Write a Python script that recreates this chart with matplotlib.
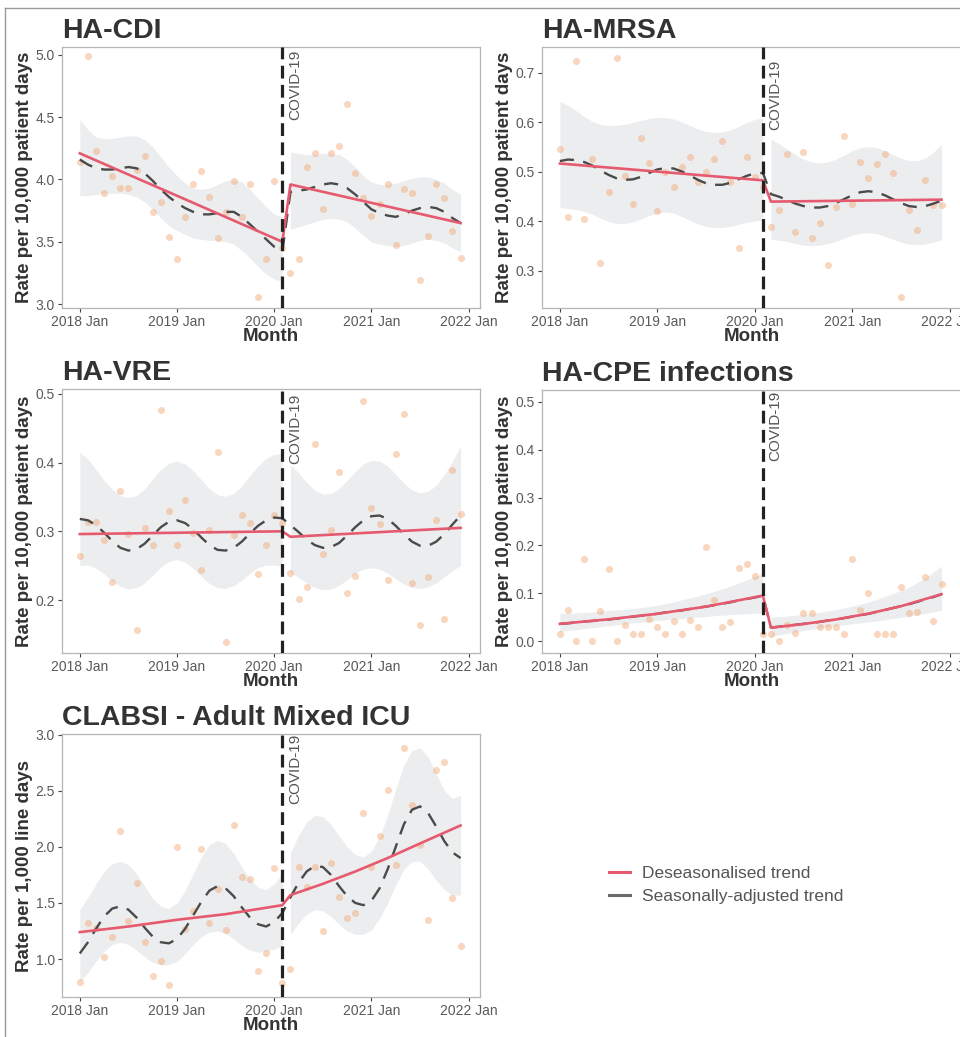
import matplotlib
matplotlib.use("Agg")
import matplotlib.pyplot as plt
from matplotlib.lines import Line2D

plt.rcParams['font.family'] = ['Liberation Sans', 'DejaVu Sans']

# monthly index, 0 = 2018 Jan ... 47 = 2021 Dec
months = list(range(48))
tick_pos = [0, 12, 24, 36, 48]
tick_labels = ["2018 Jan", "2019 Jan", "2020 Jan", "2021 Jan", "2022 Jan"]
covid_month = 25  # 2020 Feb

# ---------------- HA-CDI ----------------
cdi_rate = [4.14, 4.99, 4.23, 3.89, 4.03, 3.93, 3.93, 4.08, 4.19, 3.74, 3.82, 3.54,
            3.36, 3.70, 3.96, 4.07, 3.86, 3.53, 3.74, 3.99, 3.70, 3.96, 3.06, 3.36,
            3.99, 3.45, 3.25, 3.36, 4.10, 4.21, 3.76, 4.21, 4.27, 4.61, 4.05, 3.85,
            3.71, 3.80, 3.96, 3.47, 3.92, 3.89, 3.19, 3.55, 3.96, 3.85, 3.59, 3.37]
cdi_seas = [4.16, 4.12, 4.09, 4.08, 4.08, 4.09, 4.10, 4.09, 4.05, 3.99, 3.92, 3.86,
            3.81, 3.77, 3.74, 3.72, 3.72, 3.73, 3.74, 3.74, 3.70, 3.64, 3.58, 3.52,
            3.46, 3.42, 3.90, 3.91, 3.92, 3.94, 3.96, 3.97, 3.96, 3.93, 3.88, 3.82,
            3.76, 3.73, 3.71, 3.70, 3.72, 3.75, 3.77, 3.78, 3.77, 3.74, 3.69, 3.65]
cdi_hi = [4.48, 4.40, 4.34, 4.33, 4.33, 4.34, 4.35, 4.35, 4.32, 4.26, 4.18, 4.10,
          4.03, 3.97, 3.93, 3.92, 3.93, 3.96, 3.99, 4.00, 3.98, 3.92, 3.85, 3.78,
          3.72, 3.70, 4.22, 4.21, 4.20, 4.20, 4.21, 4.21, 4.20, 4.16, 4.10, 4.03,
          3.98, 3.96, 3.96, 3.97, 3.99, 4.01, 4.02, 4.02, 4.00, 3.97, 3.92, 3.88]
cdi_lo = [3.87, 3.87, 3.88, 3.89, 3.89, 3.89, 3.88, 3.86, 3.82, 3.76, 3.69, 3.63,
          3.59, 3.56, 3.53, 3.52, 3.51, 3.51, 3.50, 3.48, 3.43, 3.37, 3.30, 3.24,
          3.20, 3.18, 3.60, 3.62, 3.64, 3.66, 3.68, 3.69, 3.68, 3.66, 3.61, 3.55,
          3.50, 3.48, 3.47, 3.46, 3.47, 3.49, 3.51, 3.52, 3.51, 3.49, 3.45, 3.42]
cdi_trend_x = [0, 25, 26, 47]
cdi_trend_y = [4.21, 3.50, 3.96, 3.65]

# ---------------- HA-MRSA ----------------
mrsa_rate = [0.547, 0.409, 0.724, 0.404, 0.527, 0.316, 0.460, 0.731, 0.492, 0.436, 0.569, 0.518,
             0.421, 0.500, 0.470, 0.510, 0.530, 0.479, 0.500, 0.527, 0.562, 0.480, 0.347, 0.530,
             0.490, 0.470, 0.388, 0.424, 0.537, 0.379, 0.540, 0.367, 0.397, 0.311, 0.429, 0.572,
             0.436, 0.520, 0.488, 0.517, 0.536, 0.498, 0.247, 0.424, 0.382, 0.483, 0.433, 0.434]
mrsa_seas = [0.522, 0.525, 0.524, 0.520, 0.513, 0.503, 0.494, 0.487, 0.484, 0.485, 0.490, 0.498,
             0.505, 0.508, 0.507, 0.501, 0.493, 0.484, 0.477, 0.474, 0.474, 0.478, 0.485, 0.492,
             0.497, 0.498, 0.455, 0.450, 0.443, 0.436, 0.431, 0.428, 0.428, 0.431, 0.437, 0.445,
             0.453, 0.459, 0.461, 0.459, 0.453, 0.445, 0.437, 0.431, 0.429, 0.431, 0.436, 0.442]
mrsa_hi = [0.642, 0.635, 0.624, 0.612, 0.602, 0.596, 0.594, 0.594, 0.596, 0.600, 0.604, 0.608,
           0.610, 0.610, 0.607, 0.601, 0.594, 0.587, 0.582, 0.580, 0.581, 0.585, 0.592, 0.600,
           0.606, 0.609, 0.566, 0.557, 0.546, 0.535, 0.526, 0.520, 0.518, 0.520, 0.526, 0.534,
           0.543, 0.549, 0.551, 0.549, 0.543, 0.535, 0.528, 0.523, 0.523, 0.528, 0.540, 0.556]
mrsa_lo = [0.428, 0.426, 0.424, 0.420, 0.414, 0.407, 0.400, 0.396, 0.396, 0.399, 0.405, 0.412,
           0.417, 0.419, 0.417, 0.410, 0.402, 0.395, 0.390, 0.388, 0.388, 0.390, 0.394, 0.398,
           0.401, 0.403, 0.364, 0.362, 0.359, 0.355, 0.352, 0.351, 0.352, 0.355, 0.360, 0.366,
           0.372, 0.376, 0.377, 0.375, 0.370, 0.364, 0.358, 0.354, 0.353, 0.354, 0.358, 0.363]
mrsa_trend_x = [0, 25, 26, 47]
mrsa_trend_y = [0.517, 0.483, 0.440, 0.444]

# ---------------- HA-VRE ----------------
vre_rate = [0.264, 0.314, 0.314, 0.287, 0.227, 0.358, 0.296, 0.157, 0.305, 0.280, 0.476, 0.329,
            0.280, 0.345, 0.297, 0.244, 0.302, 0.416, 0.139, 0.295, 0.323, 0.312, 0.238, 0.280,
            0.324, 0.312, 0.240, 0.202, 0.219, 0.427, 0.267, 0.302, 0.386, 0.211, 0.235, 0.489,
            0.334, 0.311, 0.229, 0.412, 0.470, 0.225, 0.164, 0.233, 0.316, 0.172, 0.389, 0.325]
vre_seas = [0.318, 0.316, 0.309, 0.298, 0.286, 0.276, 0.272, 0.274, 0.282, 0.294, 0.306, 0.314,
            0.316, 0.312, 0.303, 0.291, 0.280, 0.273, 0.272, 0.276, 0.285, 0.297, 0.308, 0.316,
            0.320, 0.319, 0.309, 0.299, 0.288, 0.280, 0.276, 0.277, 0.283, 0.294, 0.306, 0.316,
            0.322, 0.323, 0.318, 0.308, 0.296, 0.285, 0.279, 0.279, 0.285, 0.296, 0.310, 0.323]
vre_hi = [0.415, 0.405, 0.390, 0.374, 0.361, 0.352, 0.349, 0.352, 0.362, 0.376, 0.390, 0.399,
          0.402, 0.398, 0.388, 0.375, 0.362, 0.353, 0.351, 0.355, 0.366, 0.381, 0.395, 0.406,
          0.412, 0.413, 0.397, 0.385, 0.371, 0.360, 0.354, 0.355, 0.362, 0.374, 0.387, 0.398,
          0.403, 0.402, 0.395, 0.383, 0.370, 0.360, 0.356, 0.358, 0.367, 0.382, 0.402, 0.424]
vre_lo = [0.250, 0.251, 0.246, 0.238, 0.228, 0.220, 0.216, 0.218, 0.225, 0.236, 0.248, 0.256,
          0.259, 0.255, 0.246, 0.234, 0.224, 0.218, 0.217, 0.221, 0.229, 0.239, 0.247, 0.251,
          0.251, 0.249, 0.240, 0.233, 0.225, 0.218, 0.215, 0.216, 0.221, 0.230, 0.239, 0.245,
          0.247, 0.245, 0.239, 0.231, 0.223, 0.218, 0.217, 0.219, 0.225, 0.234, 0.243, 0.250]
vre_trend_x = [0, 25, 26, 47]
vre_trend_y = [0.296, 0.300, 0.292, 0.305]

# ---------------- HA-CPE infections ----------------
cpe_rate = [0.014, 0.065, 0.000, 0.171, 0.000, 0.063, 0.150, 0.000, 0.033, 0.014, 0.014, 0.047,
            0.029, 0.014, 0.042, 0.014, 0.045, 0.030, 0.197, 0.086, 0.030, 0.040, 0.152, 0.162,
            0.136, 0.014, 0.014, 0.000, 0.033, 0.016, 0.058, 0.058, 0.030, 0.030, 0.030, 0.014,
            0.171, 0.065, 0.101, 0.014, 0.014, 0.014, 0.112, 0.058, 0.061, 0.133, 0.042, 0.120]
cpe_seas = [0.036, 0.037, 0.039, 0.041, 0.042, 0.044, 0.045, 0.047, 0.049, 0.051, 0.053, 0.055,
            0.057, 0.060, 0.062, 0.064, 0.067, 0.070, 0.072, 0.075, 0.078, 0.081, 0.085, 0.088,
            0.091, 0.095, 0.028, 0.030, 0.032, 0.034, 0.036, 0.038, 0.040, 0.043, 0.045, 0.048,
            0.051, 0.054, 0.057, 0.061, 0.065, 0.069, 0.073, 0.077, 0.082, 0.087, 0.092, 0.098]
cpe_hi = [0.058, 0.058, 0.059, 0.060, 0.061, 0.062, 0.064, 0.065, 0.066, 0.068, 0.070, 0.072,
          0.075, 0.078, 0.082, 0.086, 0.090, 0.094, 0.099, 0.104, 0.109, 0.115, 0.121, 0.128,
          0.135, 0.142, 0.050, 0.051, 0.052, 0.054, 0.056, 0.058, 0.060, 0.063, 0.066, 0.069,
          0.073, 0.077, 0.082, 0.087, 0.093, 0.099, 0.106, 0.113, 0.122, 0.132, 0.144, 0.157]
cpe_lo = [0.020, 0.022, 0.024, 0.026, 0.028, 0.030, 0.032, 0.034, 0.036, 0.038, 0.039, 0.041,
          0.043, 0.044, 0.046, 0.047, 0.049, 0.050, 0.051, 0.053, 0.054, 0.055, 0.056, 0.057,
          0.058, 0.059, 0.010, 0.013, 0.016, 0.019, 0.022, 0.025, 0.027, 0.030, 0.032, 0.034,
          0.036, 0.038, 0.040, 0.042, 0.044, 0.047, 0.049, 0.052, 0.055, 0.058, 0.061, 0.064]
cpe_trend_x = [0, 6, 12, 18, 25, 26, 30, 34, 38, 42, 47]
cpe_trend_y = [0.036, 0.0455, 0.057, 0.072, 0.095, 0.028, 0.0356, 0.0452, 0.0573, 0.0728, 0.098]

# ---------------- CLABSI - Adult Mixed ICU ----------------
clabsi_rate = [0.80, 1.32, 1.28, 1.02, 1.20, 2.14, 1.34, 1.68, 1.15, 0.85, 0.98, 0.77,
               2.00, 1.27, 1.43, 1.98, 1.32, 1.62, 1.26, 2.19, 1.73, 1.71, 0.89, 1.05,
               1.81, 0.79, 0.91, 1.82, 1.64, 1.82, 1.25, 1.86, 1.55, 1.37, 1.41, 2.30,
               1.82, 2.10, 2.51, 1.84, 2.88, 2.37, 2.02, 1.35, 2.68, 2.76, 1.54, 1.12]
clabsi_seas = [1.05, 1.15, 1.27, 1.38, 1.45, 1.47, 1.44, 1.37, 1.28, 1.20, 1.15, 1.14,
               1.18, 1.27, 1.39, 1.51, 1.61, 1.65, 1.63, 1.56, 1.46, 1.37, 1.31, 1.29,
               1.33, 1.41, 1.55, 1.68, 1.78, 1.83, 1.82, 1.75, 1.65, 1.56, 1.50, 1.48,
               1.52, 1.63, 1.80, 2.00, 2.20, 2.33, 2.36, 2.30, 2.18, 2.05, 1.95, 1.90]
clabsi_hi = [1.44, 1.55, 1.67, 1.78, 1.85, 1.87, 1.84, 1.76, 1.65, 1.54, 1.47, 1.45,
             1.50, 1.61, 1.76, 1.91, 2.02, 2.06, 2.03, 1.94, 1.82, 1.71, 1.64, 1.62,
             1.67, 1.76, 1.95, 2.10, 2.22, 2.28, 2.27, 2.20, 2.10, 2.00, 1.93, 1.91,
             1.96, 2.09, 2.28, 2.51, 2.73, 2.86, 2.88, 2.80, 2.65, 2.50, 2.43, 2.46]
clabsi_lo = [0.80, 0.88, 0.98, 1.07, 1.13, 1.15, 1.13, 1.08, 1.02, 0.97, 0.95, 0.95,
             0.98, 1.05, 1.13, 1.20, 1.24, 1.25, 1.23, 1.18, 1.12, 1.08, 1.06, 1.07,
             1.09, 1.12, 1.22, 1.32, 1.40, 1.44, 1.43, 1.38, 1.31, 1.25, 1.22, 1.22,
             1.26, 1.36, 1.50, 1.66, 1.80, 1.87, 1.87, 1.80, 1.70, 1.62, 1.57, 1.57]
clabsi_trend_x = [0, 6, 12, 18, 25, 26, 30, 34, 38, 42, 47]
clabsi_trend_y = [1.24, 1.29, 1.35, 1.40, 1.48, 1.57, 1.67, 1.78, 1.90, 2.03, 2.19]

panels = [
    dict(title="HA-CDI", ylabel="Rate per 10,000 patient days",
         rate=cdi_rate, seas=cdi_seas, hi=cdi_hi, lo=cdi_lo, tx=cdi_trend_x, ty=cdi_trend_y,
         yticks=[3.0, 3.5, 4.0, 4.5, 5.0], ylim=(2.968, 5.064), covid_y=5.04),
    dict(title="HA-MRSA", ylabel="Rate per 10,000 patient days",
         rate=mrsa_rate, seas=mrsa_seas, hi=mrsa_hi, lo=mrsa_lo, tx=mrsa_trend_x, ty=mrsa_trend_y,
         yticks=[0.3, 0.4, 0.5, 0.6, 0.7], ylim=(0.225, 0.7525), covid_y=0.726),
    dict(title="HA-VRE", ylabel="Rate per 10,000 patient days",
         rate=vre_rate, seas=vre_seas, hi=vre_hi, lo=vre_lo, tx=vre_trend_x, ty=vre_trend_y,
         yticks=[0.2, 0.3, 0.4, 0.5], ylim=(0.123, 0.507), covid_y=0.50),
    dict(title="HA-CPE infections", ylabel="Rate per 10,000 patient days",
         rate=cpe_rate, seas=cpe_seas, hi=cpe_hi, lo=cpe_lo, tx=cpe_trend_x, ty=cpe_trend_y,
         yticks=[0.0, 0.1, 0.2, 0.3, 0.4, 0.5], ylim=(-0.025, 0.525), covid_y=0.524),
    dict(title="CLABSI - Adult Mixed ICU", ylabel="Rate per 1,000 line days",
         rate=clabsi_rate, seas=clabsi_seas, hi=clabsi_hi, lo=clabsi_lo,
         tx=clabsi_trend_x, ty=clabsi_trend_y,
         yticks=[1.0, 1.5, 2.0, 2.5, 3.0], ylim=(0.662, 3.005), covid_y=3.01),
]

# panel boxes in pixels: left, top, right, bottom
layout = [(62, 47, 480, 308), (542, 47, 961, 308),
          (62, 389, 480, 653), (542, 390, 961, 653),
          (62, 734, 480, 997)]

red = "#E65A6F"
dash_col = "#4A4A4A"
pt_col = "#F2A470"
ribbon = "#ECEDEE"
txt_dark = "#333333"

W, H = 960, 1037
fig = plt.figure(figsize=(W / 100, H / 100), dpi=100)

for p, (l, t, r, b) in zip(panels, layout):
    ax = fig.add_axes([l / W, 1 - b / H, (r - l) / W, (b - t) / H])
    aw, ah = r - l, b - t
    n = covid_month + 1
    ax.fill_between(months[:n], p['lo'][:n], p['hi'][:n], color=ribbon, lw=0, zorder=1)
    ax.fill_between(months[n:], p['lo'][n:], p['hi'][n:], color=ribbon, lw=0, zorder=1)
    ax.scatter(months, p['rate'], s=26, color=pt_col, alpha=0.45, lw=0, zorder=2)
    ax.plot(months, p['seas'], color=dash_col, lw=1.7, dashes=(6, 4), zorder=3)
    ax.plot(p['tx'], p['ty'], color=red, lw=1.9, zorder=4)
    ax.axvline(covid_month, color="#222222", lw=2.3, dashes=(4, 2), zorder=5)
    ax.text(covid_month + 0.7, p['covid_y'], "COVID-19", rotation=90, ha='left', va='top',
            fontsize=11, color="#555555", clip_on=True, zorder=6)

    ax.set_xlim(-2.2, 49.4)
    ax.set_ylim(*p['ylim'])
    ax.set_xticks(tick_pos)
    ax.set_xticklabels(tick_labels)
    ax.set_yticks(p['yticks'])
    ax.set_yticklabels([f"{v:.1f}" for v in p['yticks']])
    ax.tick_params(axis='both', labelsize=10, labelcolor="#5A5A5A", color="#444444",
                   length=3, width=0.8, pad=2)
    for s in ax.spines.values():
        s.set_color("#B5B5B5")
        s.set_linewidth(0.9)

    ax.set_ylabel(p['ylabel'], fontsize=13.5, fontweight='bold', color=txt_dark)
    ax.yaxis.set_label_coords(-29 / aw, 0.5)
    ax.set_xlabel("Month", fontsize=13.5, fontweight='bold', color=txt_dark)
    ax.xaxis.set_label_coords(0.5, -20 / ah)
    ax.text(0, 1 + 9 / ah, p['title'], transform=ax.transAxes, fontsize=20.5,
            fontweight='bold', color=txt_dark, ha='left', va='baseline')

handles = [Line2D([], [], color=red, lw=2.2),
           Line2D([], [], color="#6A6A6A", lw=2.2)]
fig.legend(handles, ["Deseasonalised trend", "Seasonally-adjusted trend"],
           loc='upper left', bbox_to_anchor=(600 / W, 1 - 857 / H), frameon=False,
           fontsize=12.5, handlelength=1.2, handletextpad=0.7, labelspacing=0.45,
           borderpad=0, labelcolor="#555555")

# outer frame (top and left edges of the cropped figure)
fig.add_artist(Line2D([5 / W, 1], [1 - 8 / H, 1 - 8 / H], transform=fig.transFigure,
                      color="#9A9A9A", lw=1))
fig.add_artist(Line2D([5 / W, 5 / W], [0, 1 - 8 / H], transform=fig.transFigure,
                      color="#9A9A9A", lw=1))

fig.savefig("out.png", dpi=100)
